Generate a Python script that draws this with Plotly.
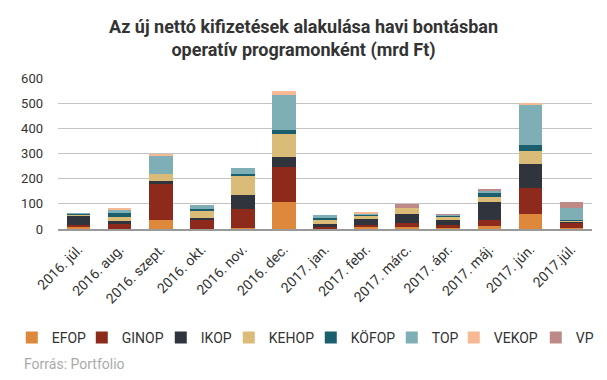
import plotly.graph_objects as go

categories = ["2016. júl.", "2016. aug.", "2016. szept.", "2016. okt.", "2016. nov.", "2016. dec.",
              "2017. jan.", "2017. febr.", "2017. márc.", "2017. ápr.", "2017. máj.", "2017. jún.", "2017.júl."]

EFOP  = [7, 1, 35, 1, 4, 107, 1, 6, 6, 4, 11, 59, 4]
GINOP = [8, 20, 144, 34, 76, 140, 6, 8, 16, 11, 24, 104, 20]
IKOP  = [40, 11, 12, 8, 56, 40, 12, 24, 36, 20, 72, 96, 5]
KEHOP = [4, 16, 28, 28, 76, 92, 20, 16, 24, 12, 20, 52, 3]
KOFOP = [1, 16, 0, 8, 8, 16, 4, 4, 0, 8, 16, 24, 4]
TOP   = [3, 12, 72, 16, 24, 136, 12, 4, 0, 1, 8, 156, 48]
VEKOP = [0, 4, 4, 0, 0, 16, 0, 4, 0, 0, 0, 11, 0]
VP    = [0, 0, 0, 0, 0, 0, 0, 0, 16, 3, 4, 0, 24]

series = [
    ("EFOP", EFOP, "#DD883A", 25),
    ("GINOP", GINOP, "#8E2A1C", 34),
    ("IKOP", IKOP, "#30353D", 23),
    ("KEHOP", KEHOP, "#DBBB78", 37),
    ("KÖFOP", KOFOP, "#1B5E6E", 36),
    ("TOP", TOP, "#7FAFB6", 17),
    ("VEKOP", VEKOP, "#F7B994", 37),
    ("VP", VP, "#BD8A88", 22),
]

fig = go.Figure()
for name, vals, color, lw in series:
    fig.add_trace(go.Bar(x=categories, y=vals, name=name, marker_color=color,
                         marker_line_width=0, legendwidth=lw))

PL, PT, PW, PH = 49, 78, 543, 151

fig.update_layout(
    width=607, height=380,
    barmode="stack", bargap=0.425,
    paper_bgcolor="white", plot_bgcolor="white",
    margin=dict(l=PL, r=607 - PL - PW, t=PT, b=380 - PT - PH),
    font=dict(family="Roboto", size=13, color="#333"),
    title=dict(text="<b>Az új nettó kifizetések alakulása havi bontásban<br>operatív programonként (mrd Ft)</b>",
               x=0.5, xref="container", xanchor="center", y=1 - 32.5 / 380, yref="container", yanchor="middle",
               font=dict(family="Roboto", size=18, color="#333")),
    showlegend=True,
    legend=dict(orientation="h", xref="paper", yref="paper",
                x=(2 - PL) / PW, y=(PT + PH - 338) / PH,
                xanchor="left", yanchor="middle", font=dict(size=14, color="#333"),
                bgcolor="rgba(0,0,0,0)", traceorder="normal"),
    xaxis=dict(type="category", tickangle=-45, showgrid=False, showline=True,
               linecolor="#999", linewidth=1.5, ticks="", ticklabelstandoff=5,
               tickfont=dict(size=14, color="#333")),
    yaxis=dict(range=[0, 600], dtick=100, showgrid=True, gridcolor="#c4c4c4", gridwidth=1,
               zeroline=False, showline=False, ticks="", ticklabelstandoff=14,
               tickfont=dict(size=13, color="#333")),
    annotations=[dict(text="Forrás: Portfolio", xref="paper", yref="paper",
                      x=(12 - PL) / PW, y=(PT + PH - 364) / PH, xanchor="left", yanchor="middle",
                      showarrow=False, font=dict(size=14, color="#aaa"))],
)

fig.write_html("out.html", config={"displayModeBar": False},
               post_script="document.body.style.margin='0';document.body.style.overflow='hidden';")
